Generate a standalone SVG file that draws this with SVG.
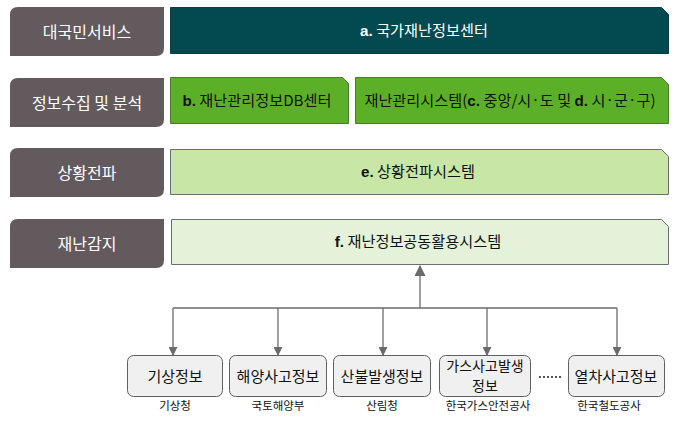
<svg xmlns="http://www.w3.org/2000/svg" width="675" height="424" viewBox="0 0 675 424">
<style>
.lbl{fill:#625a5d}
.lt{font-family:"Noto Sans CJK KR","Noto Sans",sans-serif;font-size:16px;fill:#ffffff;text-anchor:middle}
.bt{font-family:"Noto Sans CJK KR","Noto Sans",sans-serif;font-size:15.2px;text-anchor:middle}
.bt tspan.b{font-weight:bold;font-family:"Liberation Sans","Noto Sans CJK KR",sans-serif}
.src{fill:#f0f0f0;stroke:#5f5f5f;stroke-width:1}
.st{font-family:"Noto Sans CJK KR","Noto Sans",sans-serif;font-size:15px;fill:#111;text-anchor:middle}
.st2{font-family:"Noto Sans CJK KR","Noto Sans",sans-serif;font-size:14px;fill:#111;text-anchor:middle}
.sub{font-family:"Noto Sans CJK KR","Noto Sans",sans-serif;font-size:11.5px;fill:#111;text-anchor:middle}
.ln{stroke:#6b6b6b;stroke-width:1.3;fill:none}
</style>
<defs>
<marker id="ah" viewBox="0 0 10 10" refX="9" refY="5" markerWidth="9" markerHeight="9" markerUnits="userSpaceOnUse" orient="auto">
<path d="M0,0 L10,5 L0,10 z" fill="#6b6b6b"/>
</marker>
<marker id="ah2" viewBox="0 0 10 10" refX="9" refY="5" markerWidth="11" markerHeight="11" markerUnits="userSpaceOnUse" orient="auto">
<path d="M0,0 L10,5 L0,10 z" fill="#6b6b6b"/>
</marker>
</defs>
<rect width="675" height="424" fill="#ffffff"/>

<g id="label-1"><path class="lbl" d="M18,7 H164 V48 Q164,56 156,56 H10 V15 Q10,7 18,7 Z"/><text class="lt" x="87" y="38">대국민서비스</text></g>
<g id="label-2"><path class="lbl" d="M18,78 H164 V119 Q164,127 156,127 H10 V86 Q10,78 18,78 Z"/><text class="lt" x="87" y="109">정보수집 및 분석</text></g>
<g id="label-3"><path class="lbl" d="M18,148 H164 V189 Q164,197 156,197 H10 V156 Q10,148 18,148 Z"/><text class="lt" x="87" y="179">상황전파</text></g>
<g id="label-4"><path class="lbl" d="M18,219 H164 V260 Q164,268 156,268 H10 V227 Q10,219 18,219 Z"/><text class="lt" x="87" y="250">재난감지</text></g>

<g id="node-a"><path d="M170.5,7.5 H661.5 L668.5,14.5 V53.5 H170.5 Z" fill="#034a50" stroke="#0a3c40"/><text class="bt" x="424" y="36" fill="#ffffff"><tspan class="b">a.</tspan> 국가재난정보센터</text></g>
<g id="node-b"><path d="M170.5,77.5 H342.5 L348.5,83.5 V123.5 H170.5 Z" fill="#5cb027" stroke="#4a7a2a"/><text class="bt" x="257" y="106" fill="#111"><tspan class="b">b.</tspan> 재난관리정보DB센터</text></g>
<g id="node-c"><path d="M355.5,77.5 H661.5 L668.5,84.5 V123.5 H355.5 Z" fill="#5cb027" stroke="#4a7a2a"/><text class="bt" x="510" y="106" fill="#111">재난관리시스템(<tspan class="b">c.</tspan> 중앙/시·도 및 <tspan class="b">d.</tspan> 시·군·구)</text></g>
<g id="node-e"><path d="M170.5,149.5 H661.5 L668.5,156.5 V194.5 H170.5 Z" fill="#c8e6a6" stroke="#6d6d6d"/><text class="bt" x="418" y="177" fill="#111"><tspan class="b">e.</tspan> 상황전파시스템</text></g>
<g id="node-f"><path d="M171.5,219.5 H661.5 L668.5,226.5 V264.5 H171.5 Z" fill="#e3f2d8" stroke="#6d6d6d"/><text class="bt" x="418" y="247" fill="#111"><tspan class="b">f.</tspan> 재난정보공동활용시스템</text></g>

<g id="connectors">
<line class="ln" x1="420" y1="308" x2="420" y2="266" marker-end="url(#ah2)" stroke-width="2"/>
<line class="ln" x1="173" y1="308" x2="617" y2="308"/>
<line class="ln" x1="173" y1="308" x2="173" y2="355" marker-end="url(#ah)"/>
<line class="ln" x1="278" y1="308" x2="278" y2="355" marker-end="url(#ah)"/>
<line class="ln" x1="383" y1="308" x2="383" y2="355" marker-end="url(#ah)"/>
<line class="ln" x1="487" y1="308" x2="487" y2="355" marker-end="url(#ah)"/>
<line class="ln" x1="617" y1="308" x2="617" y2="355" marker-end="url(#ah)"/>
</g>

<g id="src-1"><rect class="src" x="127.5" y="355.5" width="95" height="41" rx="6"/><text class="st" x="175" y="382">기상정보</text><text class="sub" x="175" y="410">기상청</text></g>
<g id="src-2"><rect class="src" x="229.5" y="355.5" width="97" height="41" rx="6"/><text class="st" x="278" y="382">해양사고정보</text><text class="sub" x="278" y="410">국토해양부</text></g>
<g id="src-3"><rect class="src" x="333.5" y="355.5" width="97" height="41" rx="6"/><text class="st" x="382" y="382">산불발생정보</text><text class="sub" x="382" y="410">산림청</text></g>
<g id="src-4"><rect class="src" x="439.5" y="355.5" width="91" height="41" rx="6"/><text class="st2"><tspan x="485" y="370.5">가스사고발생</tspan><tspan x="485" y="390.5">정보</tspan></text><text class="sub" x="488" y="410">한국가스안전공사</text></g>
<g id="dots"><line x1="539" y1="377" x2="563" y2="377" stroke="#555" stroke-width="2" stroke-dasharray="2,2"/></g>
<g id="src-5"><rect class="src" x="568.5" y="355.5" width="96" height="41" rx="6"/><text class="st" x="616" y="382">열차사고정보</text><text class="sub" x="609" y="410">한국철도공사</text></g>
</svg>
